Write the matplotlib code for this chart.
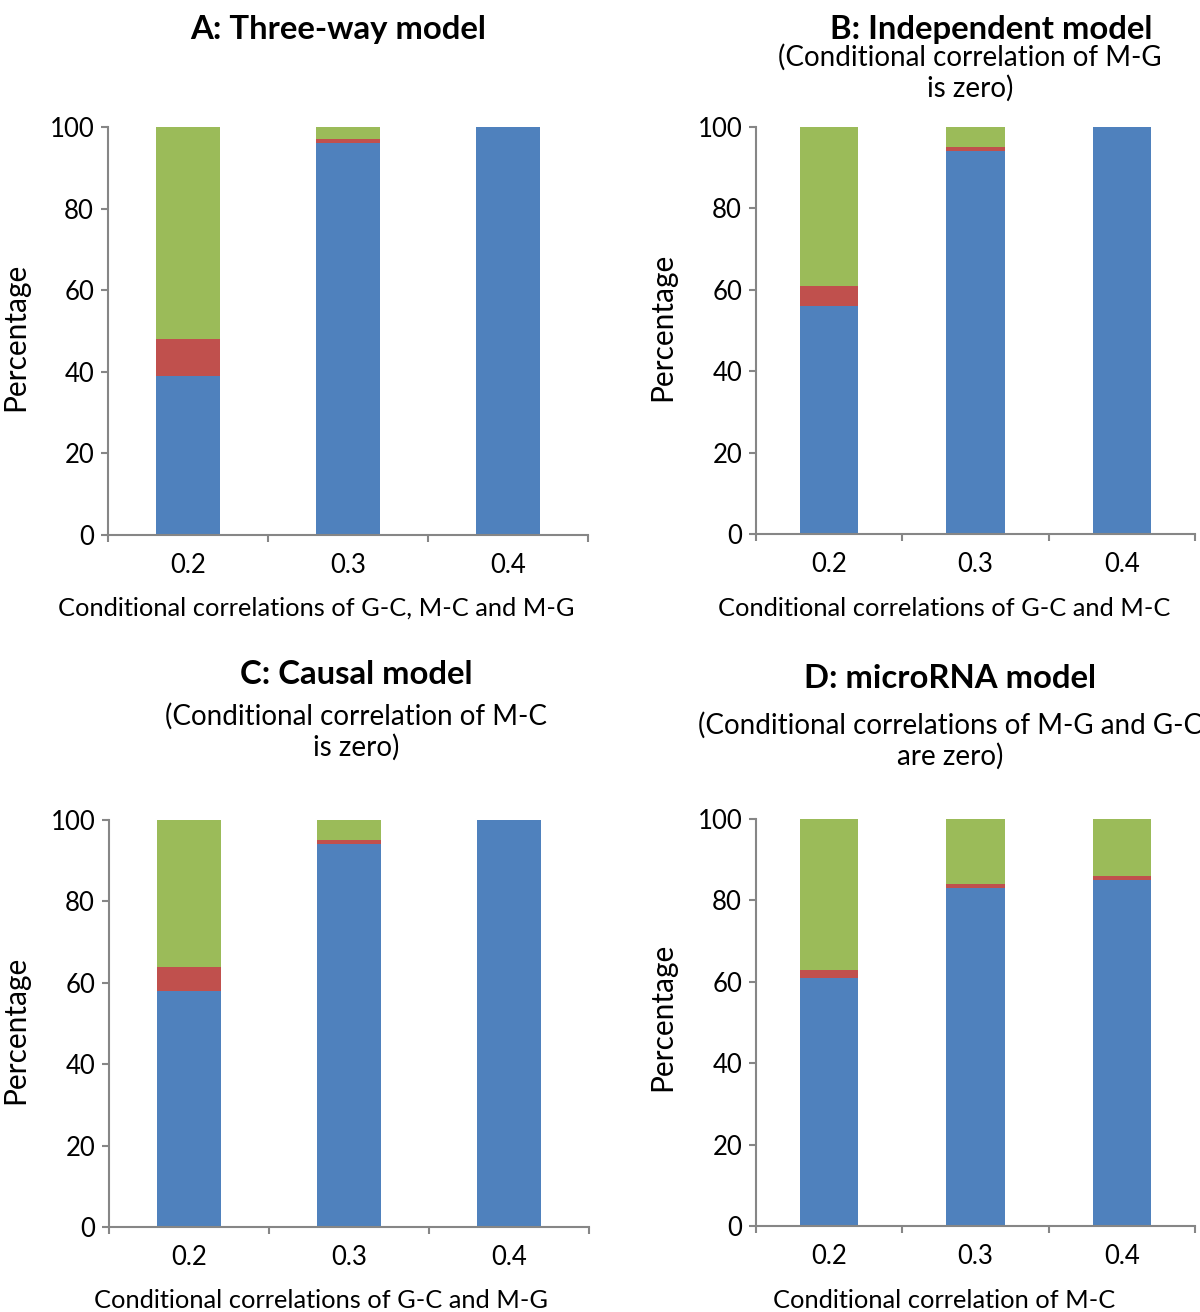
import matplotlib
matplotlib.use("Agg")
import matplotlib.pyplot as plt
import numpy as np

plt.rcParams['font.family'] = ['Lato', 'DejaVu Sans']

categories = ["0.2", "0.3", "0.4"]

# Panel data (percent): blue (bottom), red (middle), green (top)
a_blue = [39, 96, 100]
a_red = [9, 1, 0]
a_green = [52, 3, 0]

b_blue = [56, 94, 100]
b_red = [5, 1, 0]
b_green = [39, 5, 0]

c_blue = [58, 94, 100]
c_red = [6, 1, 0]
c_green = [36, 5, 0]

d_blue = [61, 83, 85]
d_red = [2, 1, 1]
d_green = [37, 16, 14]

titles = ["A: Three-way model", "B: Independent model", "C: Causal model", "D: microRNA model"]
subtitles = [None,
             "(Conditional correlation of M-G\nis zero)",
             "(Conditional correlation of M-C\nis zero)",
             "(Conditional correlations of M-G and G-C\nare zero)"]
xlabels = ["Conditional correlations of G-C, M-C and M-G",
           "Conditional correlations of G-C and M-C",
           "Conditional correlations of G-C and M-G",
           "Conditional correlation of M-C"]
ylabel = "Percentage"
yticks = [0, 20, 40, 60, 80, 100]

BLUE = "#4F81BD"
RED = "#C0504D"
GREEN = "#9BBB59"
AXC = "#868686"

W, H = 1200, 1312
fig = plt.figure(figsize=(W / 100, H / 100), dpi=100)

def px_axes(x0, y0, x1, y1):
    return fig.add_axes([x0 / W, 1 - y1 / H, (x1 - x0) / W, (y1 - y0) / H])

def ftext(x, y, s, **kw):
    fig.text(x / W, 1 - y / H, s, **kw)

panels = [
    dict(box=(108, 127, 588, 535), data=(a_blue, a_red, a_green)),
    dict(box=(756, 127, 1195, 534), data=(b_blue, b_red, b_green)),
    dict(box=(109, 820, 589, 1227), data=(c_blue, c_red, c_green)),
    dict(box=(756, 819, 1195, 1226), data=(d_blue, d_red, d_green)),
]

TICKFS = 18.5
XLFS = 18.3
SUBFS = 20
YLFS = 21.5
TFS = 23.7
for i, p in enumerate(panels):
    ax = px_axes(*p["box"])
    blue, red, green = p["data"]
    x = np.arange(len(categories))
    blue = np.array(blue); red = np.array(red); green = np.array(green)
    ax.bar(x, blue, width=0.4, color=BLUE, linewidth=0)
    ax.bar(x, red, width=0.4, bottom=blue, color=RED, linewidth=0)
    ax.bar(x, green, width=0.4, bottom=blue + red, color=GREEN, linewidth=0)
    ax.set_xlim(-0.5, len(categories) - 0.5)
    ax.set_ylim(0, 100)
    for s in ["top", "right"]:
        ax.spines[s].set_visible(False)
    for s in ["left", "bottom"]:
        ax.spines[s].set_color(AXC)
        ax.spines[s].set_linewidth(1.5)
    ax.set_yticks(yticks)
    ax.set_yticklabels([str(v) for v in yticks], fontsize=TICKFS)
    ax.tick_params(axis='y', direction='out', length=5, width=1.5, color=AXC, pad=5)
    ax.set_xticks(np.arange(len(categories) + 1) - 0.5)
    ax.set_xticklabels([])
    ax.tick_params(axis='x', which='major', direction='out', length=5, width=1.5, color=AXC)
    ax.set_xticks(x, minor=True)
    ax.set_xticklabels(categories, minor=True, fontsize=TICKFS)
    ax.tick_params(axis='x', which='minor', length=0, pad=13)
    ax.set_facecolor('none')

# titles and labels (pixel positions)
ftext(338, 30, titles[0], ha='center', va='center', fontsize=TFS, fontweight='bold')
ftext(991, 30, titles[1], ha='center', va='center', fontsize=TFS, fontweight='bold')
ftext(970, 73, subtitles[1], ha='center', va='center', fontsize=SUBFS, linespacing=1.2)
ftext(356, 675, titles[2], ha='center', va='center', fontsize=TFS, fontweight='bold')
ftext(356, 732, subtitles[2], ha='center', va='center', fontsize=SUBFS, linespacing=1.2)
ftext(950, 678, titles[3], ha='center', va='center', fontsize=TFS, fontweight='bold')
ftext(950, 741, subtitles[3], ha='center', va='center', fontsize=SUBFS, linespacing=1.2)

ftext(316, 608, xlabels[0], ha='center', va='center', fontsize=XLFS)
ftext(944, 608, xlabels[1], ha='center', va='center', fontsize=XLFS)
ftext(321, 1300, xlabels[2], ha='center', va='center', fontsize=XLFS)
ftext(944, 1300, xlabels[3], ha='center', va='center', fontsize=XLFS)

ftext(15, 337, ylabel, ha='center', va='center', fontsize=YLFS, rotation=90)
ftext(662, 327, ylabel, ha='center', va='center', fontsize=YLFS, rotation=90)
ftext(15, 1030, ylabel, ha='center', va='center', fontsize=YLFS, rotation=90)
ftext(662, 1017, ylabel, ha='center', va='center', fontsize=YLFS, rotation=90)

fig.savefig("out.png", dpi=100, facecolor='white')
